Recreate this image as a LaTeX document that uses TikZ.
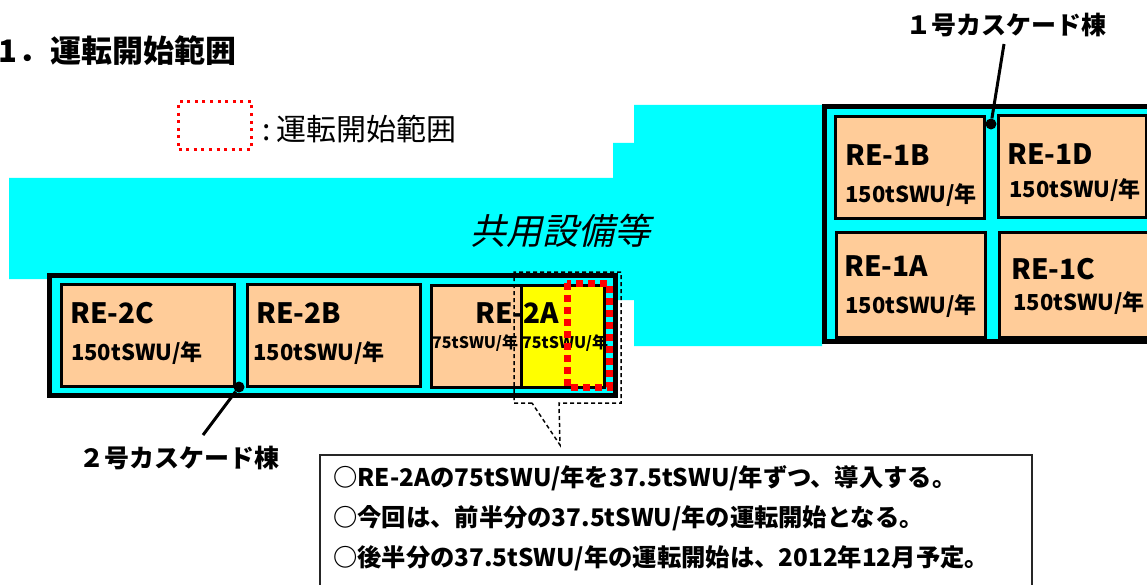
\documentclass[tikz,border=0pt]{standalone}
\usepackage{fontspec}
\setmainfont{Noto Sans CJK JP}
\newfontfamily\jpit[FakeSlant=0.22]{Noto Sans CJK JP}
\definecolor{cyanbg}{RGB}{0,255,255}
\definecolor{peach}{RGB}{255,204,153}
\definecolor{yel}{RGB}{255,255,0}
\definecolor{redd}{RGB}{255,0,0}
\tikzset{
  unitbox/.style={draw=black, line width=3pt, fill=peach, inner sep=0pt, outer sep=0pt, anchor=north west},
  bldg/.style={draw=black, line width=5pt, fill=cyanbg, inner sep=0pt, outer sep=0pt, anchor=north west},
  relabel/.style={anchor=base west, inner sep=0pt, font=\fontsize{28}{30}\selectfont\bfseries},
  ratelabel/.style={anchor=base west, inner sep=0pt, font=\fontsize{22}{24}\selectfont\bfseries},
  smallrate/.style={anchor=base west, inner sep=0pt, font=\fontsize{16}{18}\selectfont\bfseries},
  notetext/.style={anchor=base west, inner sep=0pt, font=\fontsize{24.3}{26}\selectfont\bfseries},
  casclabel/.style={anchor=center, inner sep=0pt, font=\fontsize{25}{27}\selectfont\bfseries},
  dot/.style={circle, fill=black, inner sep=0pt, minimum size=11pt},
  redsel/.style={draw=redd, line width=7pt, dash pattern=on 7pt off 5pt},
  selframe/.style={draw=black, line width=1.5pt, dash pattern=on 4pt off 3pt},
}
\begin{document}
\begin{tikzpicture}[x=1pt,y=-1pt]
\useasboundingbox (0,0) rectangle (1147,585);
\clip (0,0) rectangle (1147,585);
% common facilities background
\fill[cyanbg] (9,178) -- (613,178) -- (613,143) -- (634,143) -- (634,105) -- (822,105)
  -- (822,346) -- (634,346) -- (634,300) -- (617,300) -- (617,279) -- (9,279) -- cycle;
\node[font=\jpit\fontsize{36}{38}\selectfont] (common) at (560,231) {共用設備等};
% title and legend
\node[anchor=base west, inner sep=0pt, font=\fontsize{31}{33}\selectfont\bfseries] (title) at (-2,63) {1\hspace{1pt}．\hspace{1pt}運転開始範囲};
\node[draw=redd, line width=3pt, dash pattern=on 3pt off 4.6pt, minimum width=73pt, minimum height=48pt, inner sep=0pt, anchor=north west] (legbox) at (177,100) {};
\node[anchor=west, inner sep=0pt, font=\fontsize{30}{32}\selectfont] (legtext) at (262,129) {:\hspace{6pt}運転開始範囲};
% building 2
\node[bldg, minimum width=566pt, minimum height=120pt] (b2) at (49,275) {};
\node[unitbox, minimum width=173pt, minimum height=102pt] (re2c) at (61,284) {};
\node[unitbox, minimum width=173pt, minimum height=102pt] (re2b) at (247,284) {};
\node[unitbox, minimum width=90pt, minimum height=102pt] (re2aL) at (431,285) {};
\node[unitbox, fill=yel, minimum width=83pt, minimum height=102pt] (re2aR) at (521,285) {};
\node[relabel] (t2c) at (70,323) {RE-2C};
\node[ratelabel] (r2c) at (71,360) {150tSWU/年};
\node[relabel] (t2b) at (256,323) {RE-2B};
\node[ratelabel] (r2b) at (253,360) {150tSWU/年};
\node[relabel] (t2a) at (475,323) {RE-2A};
\node[smallrate] (r2aL) at (432,348) {75tSWU/年};
\node[smallrate] (r2aR) at (522,348) {75tSWU/年};
\draw[redsel] (567,283) rectangle (609,387);
\draw[selframe] (532,403) -- (514,403) -- (514,272) -- (621,272) -- (621,403) -- (559,403) -- (560,445) -- cycle;
% building 1
\node[bldg, minimum width=345pt, minimum height=234pt] (b1) at (824,107) {};
\node[unitbox, minimum width=149pt, minimum height=102pt] (re1b) at (835,117) {};
\node[unitbox, minimum width=148pt, minimum height=102pt] (re1d) at (998,116) {};
\node[unitbox, minimum width=149pt, minimum height=104pt] (re1a) at (836,233) {};
\node[unitbox, minimum width=150pt, minimum height=104pt] (re1c) at (999,233) {};
\node[relabel] (t1b) at (845,166) {RE-1B};
\node[ratelabel] (r1b) at (845,203) {150tSWU/年};
\node[relabel] (t1d) at (1007,165) {RE-1D};
\node[ratelabel] (r1d) at (1009,198) {150tSWU/年};
\node[relabel] (t1a) at (844,276) {RE-1A};
\node[ratelabel] (r1a) at (845,313) {150tSWU/年};
\node[relabel] (t1c) at (1011,279) {RE-1C};
\node[ratelabel] (r1c) at (1013,310) {150tSWU/年};
% cascade labels
\node[dot] (d1) at (991,124) {};
\node[casclabel] (c1) at (1006,25) {１号カスケード棟};
\coordinate (c1end) at (1004,44);
\draw[line width=3pt] (d1) -- (c1end);
\node[dot] (d2) at (239,387) {};
\node[casclabel] (c2) at (179,458) {２号カスケード棟};
\coordinate (c2end) at (203,435);
\draw[line width=3pt] (d2) -- (c2end);
% notes
\node[draw=black!85, line width=1.3pt, minimum width=712pt, minimum height=200pt, inner sep=0pt, outer sep=0pt, anchor=north west] (notes) at (320,455) {};
\node[notetext] (n1) at (333,486) {○RE-2Aの75tSWU/年を37.5tSWU/年ずつ、導入する。};
\node[notetext] (n2) at (333,526) {○今回は、前半分の37.5tSWU/年の運転開始となる。};
\node[notetext] (n3) at (333,566) {○後半分の37.5tSWU/年の運転開始は、2012年12月予定。};
\end{tikzpicture}
\end{document}
